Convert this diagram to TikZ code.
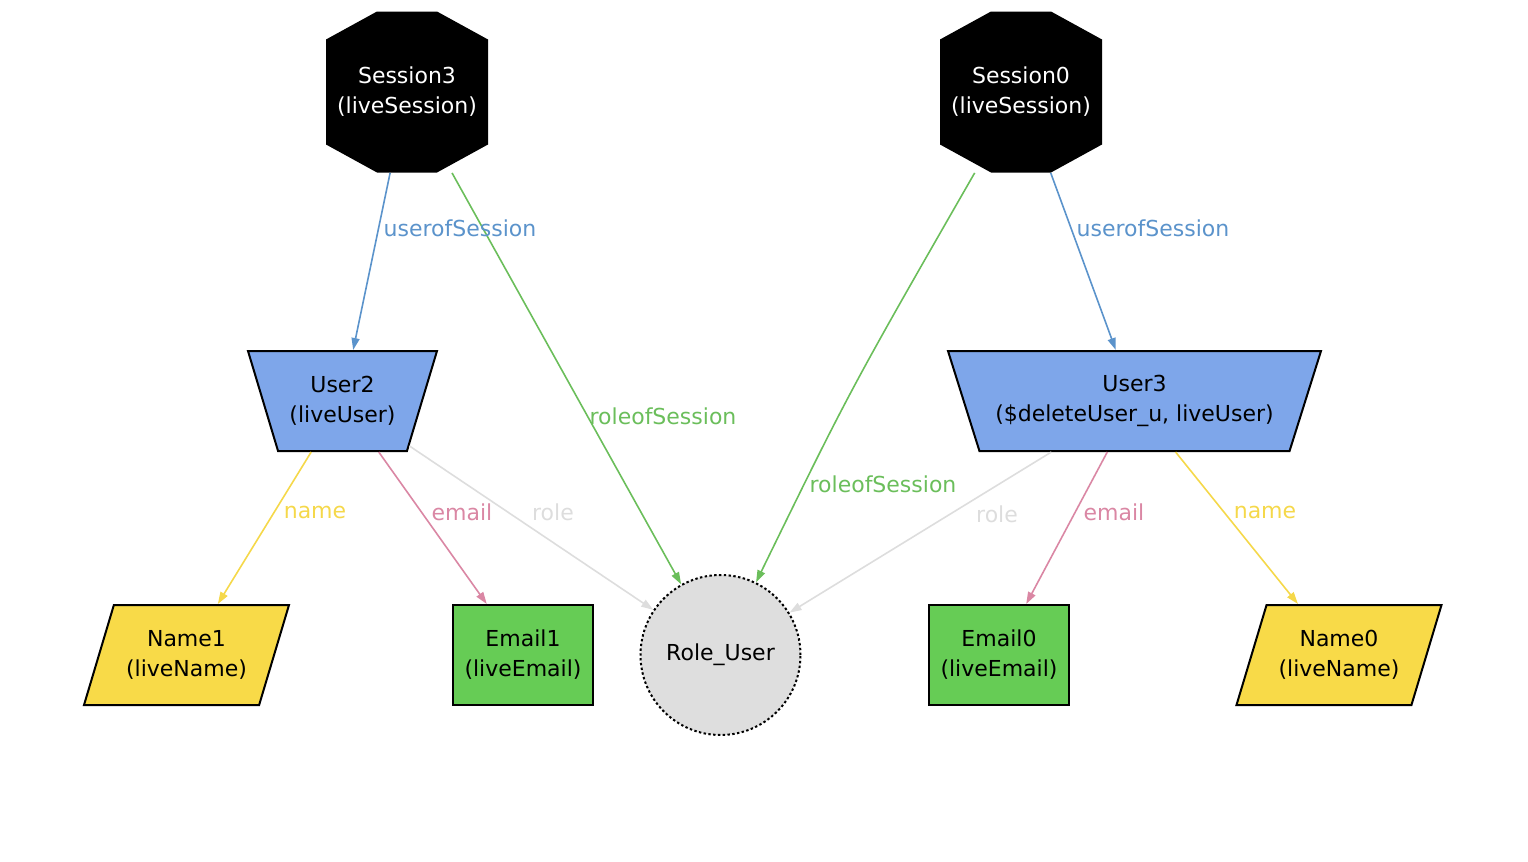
\documentclass[tikz,border=0pt]{standalone}
\usepackage{fontspec}
\setmainfont{DejaVu Sans}
\usetikzlibrary{shapes.geometric,arrows.meta}
\definecolor{userblue}{HTML}{7EA6EA}
\definecolor{nameyellow}{HTML}{F8DA48}
\definecolor{emailgreen}{HTML}{66CC55}
\definecolor{rolegray}{HTML}{DEDEDE}
\definecolor{lnblue}{HTML}{5B93CB}
\definecolor{lngreen}{HTML}{6BBE5B}
\definecolor{lnyellow}{HTML}{F5D84A}
\definecolor{lnpink}{HTML}{DA87A4}
\definecolor{lngray}{HTML}{DDDDDD}
\tikzset{
	sess/.style={rectangle, minimum width=81pt, minimum height=80.5pt, inner sep=0pt, text=white, align=center,
		path picture={\fill[black] ([xshift=25.5pt]path picture bounding box.north west) -- ([xshift=-25.5pt]path picture bounding box.north east) -- ([yshift=-14pt]path picture bounding box.north east) -- ([yshift=14pt]path picture bounding box.south east) -- ([xshift=-25.5pt]path picture bounding box.south east) -- ([xshift=25.5pt]path picture bounding box.south west) -- ([yshift=14pt]path picture bounding box.south west) -- ([yshift=-14pt]path picture bounding box.north west) -- cycle;}},
	usr/.style={trapezium, trapezium left angle=121.4, trapezium right angle=121.4, trapezium stretches body, draw, line width=1pt, fill=userblue, minimum height=50pt, inner sep=0pt, align=center},
	nam/.style={trapezium, trapezium left angle=58.6, trapezium right angle=121.4, trapezium stretches body, draw, line width=1pt, fill=nameyellow, minimum width=102.5pt, minimum height=50pt, inner sep=0pt, align=center},
	mail/.style={rectangle, draw, line width=1pt, fill=emailgreen, minimum width=70pt, minimum height=50pt, inner sep=0pt, align=center},
	rol/.style={circle, draw, line width=1pt, dash pattern=on 1.2pt off 1.2pt, fill=rolegray, minimum size=80pt, inner sep=0pt},
	rel/.style={line width=0.8pt, -{Triangle[length=6pt,width=4pt]}},
	lbl/.style={inner sep=1pt}
}
\begin{document}
\begin{tikzpicture}[x=0.5pt, y=-0.5pt, font=\fontsize{11}{15}\selectfont]
	\useasboundingbox (0,0) rectangle (1528,862);
	\node[sess] at (407,92) (s3) {Session3\\(liveSession)};
	\node[sess] at (1021,92) (s0) {Session0\\(liveSession)};
	\node[usr, minimum width=94.5pt] at (342.5,401) (u2) {User2\\(liveUser)};
	\node[usr, minimum width=186.5pt] at (1134.5,401) (u3) {User3\\(\$deleteUser\_u, liveUser)};
	\node[nam] at (186.5,655) (n1) {Name1\\(liveName)};
	\node[mail] at (523,655) (e1) {Email1\\(liveEmail)};
	\node[rol] at (720.5,655) (ru) {Role\_User};
	\node[mail] at (999,655) (e0) {Email0\\(liveEmail)};
	\node[nam] at (1339,655) (n0) {Name0\\(liveName)};
	\path (s3) edge[rel, color=lnblue] (u2)
	(s3) edge[rel, color=lngreen] (ru)
	(s0) edge[rel, color=lnblue] (u3)
	(u2) edge[rel, color=lnyellow] (n1)
	(u2) edge[rel, color=lnpink] (e1)
	(u2) edge[rel, color=lngray] (ru)
	(u3) edge[rel, color=lngray] (ru)
	(u3) edge[rel, color=lnpink] (e0)
	(u3) edge[rel, color=lnyellow] (n0);
	\draw[rel, color=lngreen] (s0) .. controls (850,390) .. (ru);
	\node[lbl, text=lnblue] at (460,228) (lu3) {userofSession};
	\node[lbl, text=lnblue] at (1153,228) (lu0) {userofSession};
	\node[lbl, text=lngreen] at (663,416) (lr3) {roleofSession};
	\node[lbl, text=lngreen] at (883,484) (lr0) {roleofSession};
	\node[lbl, text=lnyellow] at (315,512) (ln2) {name};
	\node[lbl, text=lnpink] at (462,512) (le2) {email};
	\node[lbl, text=lngray] at (553,512) (lo2) {role};
	\node[lbl, text=lngray] at (997,514) (lo3) {role};
	\node[lbl, text=lnpink] at (1114,512) (le3) {email};
	\node[lbl, text=lnyellow] at (1265,512) (ln3) {name};
\end{tikzpicture}
\end{document}
